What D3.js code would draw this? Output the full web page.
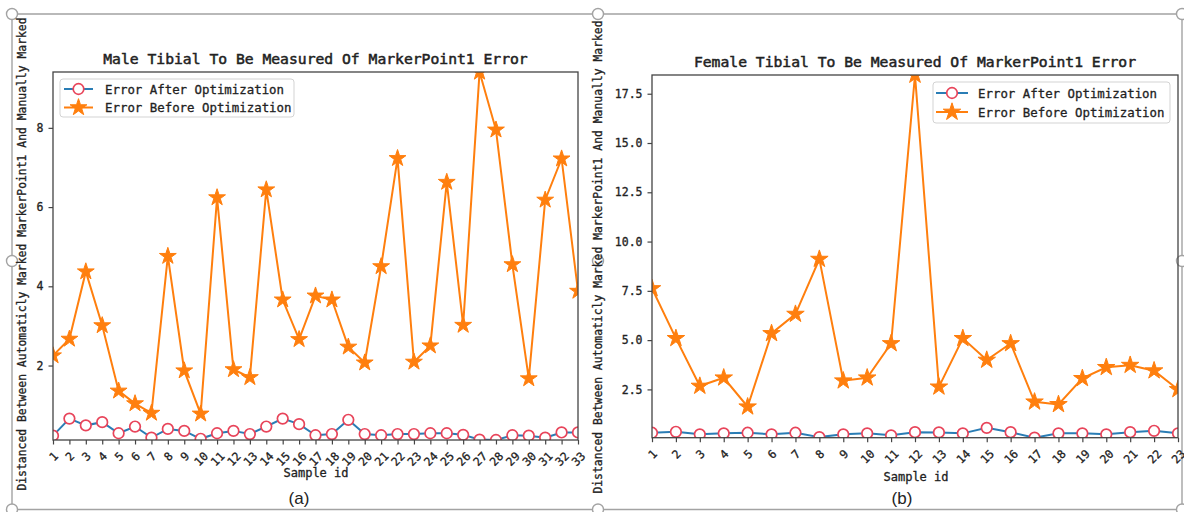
<!DOCTYPE html>
<html>
<head>
<meta charset="utf-8">
<script src="https://cdn.jsdelivr.net/npm/d3@7"></script>
<style>
body { margin: 0; background: #fff; }
svg text { font-family: "DejaVu Sans Mono", monospace; fill: #222; stroke: #222; stroke-width: 0.3px; }
svg text.title { stroke-width: 0.5px; }
svg text.cap { stroke-width: 0; }
</style>
</head>
<body>
<script>
var maleIds = [1,2,3,4,5,6,7,8,9,10,11,12,13,14,15,16,17,18,19,20,21,22,23,24,25,26,27,28,29,30,31,32,33];
var maleAfter = [0.23,0.66,0.49,0.57,0.29,0.46,0.18,0.40,0.35,0.15,0.29,0.35,0.27,0.46,0.66,0.52,0.24,0.27,0.63,0.27,0.24,0.27,0.27,0.29,0.29,0.25,0.13,0.12,0.24,0.23,0.18,0.31,0.31];
var maleBefore = [2.25,2.67,4.37,3.01,1.36,1.04,0.80,4.76,1.87,0.78,6.24,1.90,1.70,6.44,3.66,2.66,3.76,3.66,2.47,2.07,4.50,7.23,2.09,2.50,6.63,3.02,9.41,7.95,4.55,1.67,6.18,7.22,3.88];
var maleTicks = [2,4,6,8];

var femaleIds = [1,2,3,4,5,6,7,8,9,10,11,12,13,14,15,16,17,18,19,20,21,22,23];
var femaleAfter = [0.30,0.35,0.22,0.27,0.30,0.22,0.30,0.08,0.22,0.27,0.17,0.33,0.32,0.27,0.55,0.33,0.05,0.27,0.27,0.22,0.33,0.40,0.27];
var femaleBefore = [7.62,5.09,2.67,3.09,1.62,5.34,6.32,9.11,2.94,3.09,4.83,18.45,2.63,5.09,3.99,4.83,1.87,1.74,3.06,3.62,3.73,3.45,2.50];
var femaleTicks = [2.5,5,7.5,10,12.5,15,17.5];

var legendLabels = ['Error After Optimization', 'Error Before Optimization'];
var yLabel = 'Distanced Between Automaticly Marked MarkerPoint1 And Manually Marked';
var xLabel = 'Sample id';

var blue = '#2a7db5', red = '#e8445a', orange = '#ff7f0e';

var svg = d3.select('body').append('svg').attr('width', 1184).attr('height', 512);

// picture frame from the document the figure was pasted in
var frame = svg.append('g').attr('stroke', '#a3a3a3').attr('stroke-width', 1.4).attr('fill', 'none');
frame.append('path').attr('d', 'M12,14H1182V509.5H12Z');
[[12,14],[598,14],[1182,14],[12,261],[598,261],[1182,261],[12,509.5],[598,509.5],[1182,509.5]].forEach(function(h) {
	frame.append('circle').attr('cx', h[0]).attr('cy', h[1]).attr('r', 5.5).attr('fill', '#fff');
});

var panels = [
	{id: 'a', ids: maleIds, after: maleAfter, before: maleBefore, yTicks: maleTicks, fmt: d3.format('d'),
	 title: 'Male Tibial To Be Measured Of MarkerPoint1 Error', caption: '(a)',
	 l: 53, r: 578, t: 72, b: 440, ylabX: 22, ylabY: 254, capX: 299, xlabX: 316, xlabY: 477,
	 leg: {x0: 60, x1: 294, y0: 79, y1: 117, rows: [89, 107.5], lx0: 64, lx1: 93, tx: 105}, star: 88, circ: 5.3},
	{id: 'b', ids: femaleIds, after: femaleAfter, before: femaleBefore, yTicks: femaleTicks, fmt: d3.format('.1f'),
	 title: 'Female Tibial To Be Measured Of MarkerPoint1 Error', caption: '(b)',
	 l: 652, r: 1178, t: 75, b: 437.7, ylabX: 598, ylabY: 257, capX: 902, xlabX: 916, xlabY: 481,
	 leg: {x0: 933, x1: 1170, y0: 82, y1: 123, rows: [93, 112], lx0: 936, lx1: 968, tx: 978}, star: 95, circ: 5.3}
];

panels.forEach(function(p) {
	var x = d3.scaleLinear().domain(d3.extent(p.ids)).range([p.l, p.r]),
		y = d3.scaleLinear().domain(d3.extent(p.after.concat(p.before))).range([p.b, p.t]);

	svg.append('clipPath').attr('id', 'clip-' + p.id)
		.append('rect').attr('x', p.l).attr('y', p.t).attr('width', p.r - p.l).attr('height', p.b - p.t);

	var plot = svg.append('g').attr('clip-path', 'url(#clip-' + p.id + ')');
	var line = d3.line().x(function(d, i) { return x(p.ids[i]); }).y(function(d) { return y(d); });

	plot.append('path').datum(p.after).attr('d', line)
		.attr('fill', 'none').attr('stroke', blue).attr('stroke-width', 2);
	plot.selectAll('circle.after').data(p.after).enter().append('circle').attr('class', 'after')
		.attr('cx', function(d, i) { return x(p.ids[i]); }).attr('cy', function(d) { return y(d); })
		.attr('r', p.circ).attr('fill', '#fff').attr('stroke', red).attr('stroke-width', 1.7);

	plot.append('path').datum(p.before).attr('d', line)
		.attr('fill', 'none').attr('stroke', orange).attr('stroke-width', 2);
	var star = d3.symbol().type(d3.symbolStar).size(p.star);
	plot.selectAll('path.before').data(p.before).enter().append('path').attr('class', 'before')
		.attr('d', star)
		.attr('transform', function(d, i) { return 'translate(' + x(p.ids[i]) + ',' + y(d) + ')'; })
		.attr('fill', orange).attr('stroke', orange).attr('stroke-width', 1);

	// axes
	var fs = 11.5;
	var xa = svg.append('g').attr('transform', 'translate(0,' + p.b + ')')
		.call(d3.axisBottom(x).tickValues(p.ids).tickFormat(d3.format('d')).tickSize(4.5));
	xa.select('.domain').remove();
	xa.selectAll('line').attr('stroke', '#444').attr('stroke-width', 1.2);
	xa.selectAll('text').attr('font-size', fs).attr('font-family', null).attr('fill', '#222')
		.attr('y', 0).attr('dy', null)
		.attr('text-anchor', 'middle').attr('dominant-baseline', 'central')
		.attr('transform', function(d) {
			var w = String(d).length * 0.6 * fs;
			return 'translate(0,' + (10 + (w + fs) / 2.83) + ') rotate(-45)';
		});

	var ya = svg.append('g').attr('transform', 'translate(' + p.l + ',0)')
		.call(d3.axisLeft(y).tickValues(p.yTicks).tickFormat(p.fmt).tickSize(4.5).tickPadding(5));
	ya.select('.domain').remove();
	ya.selectAll('line').attr('stroke', '#444').attr('stroke-width', 1.2);
	ya.selectAll('text').attr('font-size', fs).attr('font-family', null).attr('fill', '#222');

	svg.append('rect').attr('x', p.l).attr('y', p.t).attr('width', p.r - p.l).attr('height', p.b - p.t)
		.attr('fill', 'none').attr('stroke', '#444').attr('stroke-width', 1.3);

	// texts
	svg.append('text').attr('class', 'title').attr('x', (p.l + p.r) / 2).attr('y', p.t - 8).attr('text-anchor', 'middle')
		.attr('font-size', 14.7).text(p.title);
	svg.append('text').attr('x', p.xlabX).attr('y', p.xlabY).attr('text-anchor', 'middle')
		.attr('font-size', 12).text(xLabel);
	svg.append('text').attr('transform', 'translate(' + p.ylabX + ',' + p.ylabY + ') rotate(-90)')
		.attr('text-anchor', 'middle').attr('dominant-baseline', 'central')
		.attr('font-size', 11.4).text(yLabel);
	svg.append('text').attr('class', 'cap').attr('x', p.capX).attr('y', 504).attr('text-anchor', 'middle')
		.style('font-family', '"Liberation Sans", Arial, sans-serif').attr('font-size', 17).text(p.caption);

	// legend
	var lg = p.leg, leg = svg.append('g');
	leg.append('rect').attr('x', lg.x0).attr('y', lg.y0).attr('width', lg.x1 - lg.x0).attr('height', lg.y1 - lg.y0)
		.attr('rx', 3).attr('fill', '#fff').attr('fill-opacity', 0.8).attr('stroke', '#d3d3d3');
	var mx = (lg.lx0 + lg.lx1) / 2;
	leg.append('line').attr('x1', lg.lx0).attr('x2', lg.lx1).attr('y1', lg.rows[0]).attr('y2', lg.rows[0])
		.attr('stroke', blue).attr('stroke-width', 2);
	leg.append('circle').attr('cx', mx).attr('cy', lg.rows[0]).attr('r', p.circ)
		.attr('fill', '#fff').attr('stroke', red).attr('stroke-width', 1.7);
	leg.append('line').attr('x1', lg.lx0).attr('x2', lg.lx1).attr('y1', lg.rows[1]).attr('y2', lg.rows[1])
		.attr('stroke', orange).attr('stroke-width', 2);
	leg.append('path').attr('d', star).attr('transform', 'translate(' + mx + ',' + lg.rows[1] + ')')
		.attr('fill', orange).attr('stroke', orange).attr('stroke-width', 1);
	leg.selectAll('text.lab').data(legendLabels).enter().append('text').attr('class', 'lab')
		.attr('x', lg.tx).attr('y', function(d, i) { return lg.rows[i]; })
		.attr('dominant-baseline', 'central').attr('font-size', 12.4).text(function(d) { return d; });
});
</script>
</body>
</html>
